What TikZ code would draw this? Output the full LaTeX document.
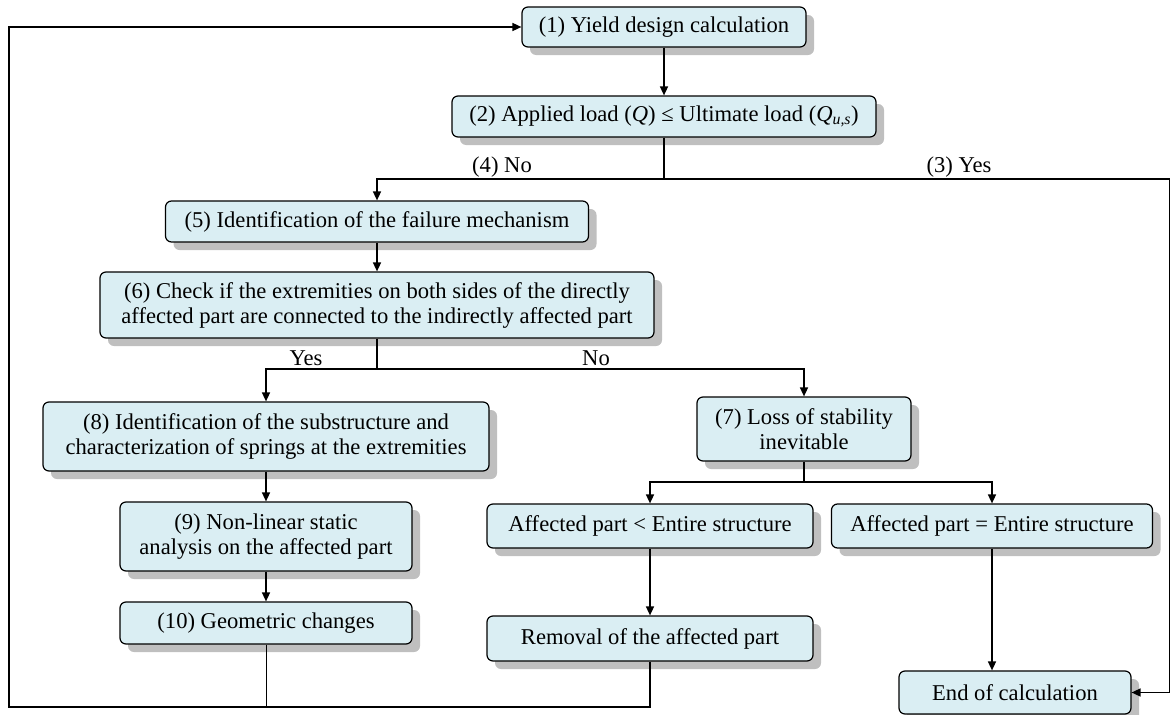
\documentclass[tikz,border=0pt]{standalone}
\usepackage{fontspec}
\setmainfont{Liberation Serif}
\usetikzlibrary{shadows,arrows.meta}
\definecolor{boxfill}{HTML}{DAEEF3}
\definecolor{shadowgray}{HTML}{BFBFBF}
\tikzset{
  box/.style={draw=black, line width=1.2pt, fill=boxfill, rounded corners=6pt,
    align=center, inner sep=0pt, font=\fontsize{22.6}{25}\selectfont,
    drop shadow={shadow xshift=8pt, shadow yshift=-8pt, fill=shadowgray, opacity=1}},
  conn/.style={line width=1.5pt},
  arr/.style={conn, -{Triangle[length=9pt,width=8pt]}},
  lbl/.style={font=\fontsize{22.6}{25}\selectfont, inner sep=0pt, anchor=base}
}
\begin{document}
\begin{tikzpicture}[x=1pt,y=-1pt]
\useasboundingbox (0,0) rectangle (1171,715);

\node[box, minimum width=284pt, minimum height=40pt] (n1) at (664,27) {(1) Yield design calculation};
\node[box, minimum width=424pt, minimum height=41pt] (n2) at (664,116.5) {(2) Applied load (\textit{Q}) ≤ Ultimate load (\textit{Q}\textsubscript{\textit{u,s}})};
\node[box, minimum width=423pt, minimum height=41pt] (n5) at (377,221.5) {(5) Identification of the failure mechanism};
\node[box, minimum width=554pt, minimum height=66pt] (n6) at (377,305) {(6) Check if the extremities on both sides of the directly\\affected part are connected to the indirectly affected part};
\node[box, minimum width=446pt, minimum height=69pt] (n8) at (266,436.5) {(8) Identification of the substructure and\\characterization of springs at the extremities};
\node[box, minimum width=214pt, minimum height=64pt] (n7) at (804,429) {(7) Loss of stability\\inevitable};
\node[box, minimum width=292pt, minimum height=69pt] (n9) at (266,536.5) {(9) Non-linear static\\analysis on the affected part};
\node[box, minimum width=292pt, minimum height=42pt] (n10) at (266,623) {(10) Geometric changes};
\node[box, minimum width=326pt, minimum height=44pt] (lt) at (650,526) {Affected part < Entire structure};
\node[box, minimum width=321pt, minimum height=44pt] (eq) at (992,526) {Affected part = Entire structure};
\node[box, minimum width=326pt, minimum height=45pt] (rem) at (650,638.5) {Removal of the affected part};
\node[box, minimum width=232pt, minimum height=43pt] (end) at (1015,692.5) {End of calculation};

\node[lbl] (l4) at (502,172) {(4) No};
\node[lbl] (l3) at (959,172) {(3) Yes};
\node[lbl] (ly) at (306,365) {Yes};
\node[lbl] (ln) at (596,365) {No};

\coordinate (j1) at (664,179);
\coordinate (rt) at (1169.5,179);
\coordinate (j2) at (377,369);
\coordinate (j3) at (804,482);
\coordinate (b1) at (9,707);

\draw[arr] (n1) -- (n2);
\draw[conn] (n2.south) -- (j1);
\draw[arr] (j1) -| (n5.north);
\draw[arr] (j1) -- (rt) |- (end.east);
\draw[arr] (n5) -- (n6);
\draw[conn] (n6.south) -- (j2);
\draw[arr] (j2) -| (n8.north);
\draw[arr] (j2) -| (n7.north);
\draw[arr] (n8) -- (n9);
\draw[arr] (n9) -- (n10);
\draw[conn] (n7.south) -- (j3);
\draw[arr] (j3) -| (lt.north);
\draw[arr] (j3) -| (eq.north);
\draw[arr] (lt) -- (rem);
\draw[arr] (eq.south) -- (eq.south |- end.north);
\draw[arr] (rem.south) |- (b1) |- (n1.west);
\draw[conn, line width=1pt] (n10.south) -- (n10.south |- b1);
\end{tikzpicture}
\end{document}
